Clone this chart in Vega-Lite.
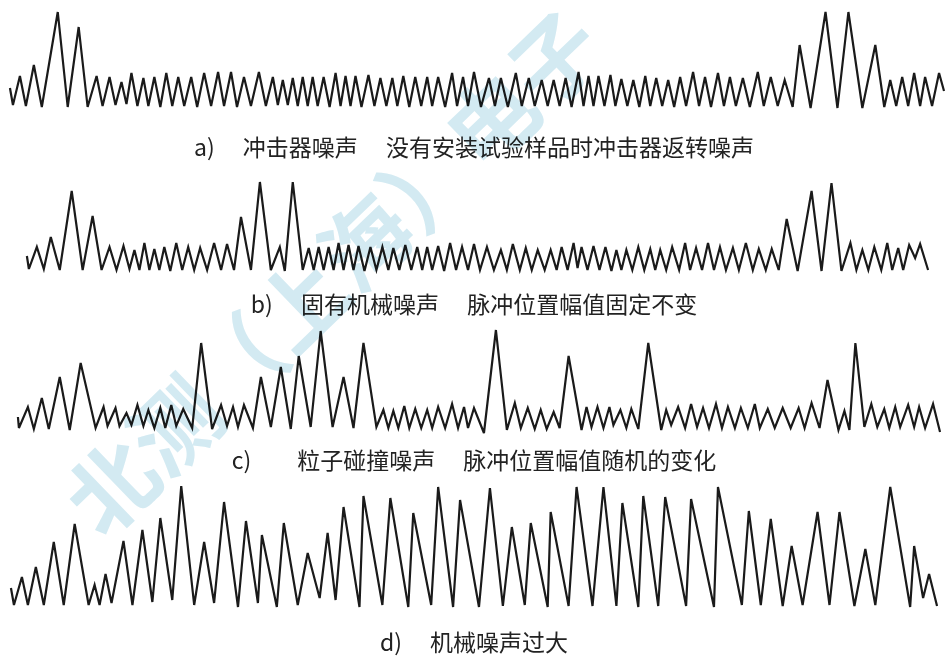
{
  "$schema": "https://vega.github.io/schema/vega-lite/v6.json",
  "padding": 0,
  "spacing": 40,
  "bounds": "flush",
  "background": "white",
  "config": {"view": {"stroke": null}, "title": {"frame": "group"}},
  "datasets": {
    "a": [{"t":8,"v":18},{"t":11,"v":1},{"t":18,"v":30},{"t":24,"v":0},{"t":32,"v":41},{"t":40,"v":-1},{"t":56,"v":94},{"t":66,"v":-1},{"t":77,"v":79},{"t":86,"v":-1},{"t":95,"v":30},{"t":101,"v":0},{"t":108,"v":29},{"t":114,"v":1},{"t":120,"v":24},{"t":125,"v":2},{"t":130,"v":33},{"t":136,"v":0},{"t":142,"v":28},{"t":147,"v":0},{"t":153,"v":29},{"t":159,"v":-1},{"t":165,"v":33},{"t":171,"v":0},{"t":177,"v":29},{"t":183,"v":0},{"t":190,"v":29},{"t":196,"v":-1},{"t":203,"v":33},{"t":210,"v":0},{"t":217,"v":34},{"t":223,"v":0},{"t":230,"v":34},{"t":236,"v":-1},{"t":243,"v":29},{"t":250,"v":0},{"t":258,"v":34},{"t":265,"v":0},{"t":272,"v":29},{"t":277,"v":1},{"t":282,"v":26},{"t":287,"v":1},{"t":292,"v":28},{"t":297,"v":0},{"t":302,"v":29},{"t":307,"v":0},{"t":312,"v":29},{"t":317,"v":0},{"t":323,"v":29},{"t":329,"v":-1},{"t":335,"v":33},{"t":340,"v":0},{"t":345,"v":30},{"t":350,"v":0},{"t":355,"v":30},{"t":361,"v":-1},{"t":368,"v":31},{"t":374,"v":0},{"t":380,"v":28},{"t":386,"v":0},{"t":392,"v":28},{"t":397,"v":0},{"t":403,"v":30},{"t":409,"v":-1},{"t":415,"v":29},{"t":421,"v":0},{"t":427,"v":29},{"t":432,"v":0},{"t":438,"v":29},{"t":445,"v":-1},{"t":452,"v":33},{"t":457,"v":0},{"t":463,"v":29},{"t":468,"v":0},{"t":474,"v":34},{"t":481,"v":-1},{"t":489,"v":28},{"t":495,"v":0},{"t":501,"v":28},{"t":508,"v":-1},{"t":516,"v":33},{"t":522,"v":0},{"t":529,"v":28},{"t":535,"v":0},{"t":542,"v":26},{"t":548,"v":0},{"t":554,"v":26},{"t":560,"v":0},{"t":566,"v":28},{"t":572,"v":-1},{"t":579,"v":34},{"t":584,"v":0},{"t":589,"v":30},{"t":594,"v":0},{"t":599,"v":30},{"t":605,"v":0},{"t":611,"v":31},{"t":616,"v":0},{"t":622,"v":27},{"t":628,"v":0},{"t":634,"v":26},{"t":640,"v":-1},{"t":646,"v":30},{"t":651,"v":0},{"t":657,"v":28},{"t":663,"v":0},{"t":669,"v":26},{"t":675,"v":-1},{"t":681,"v":29},{"t":687,"v":0},{"t":694,"v":34},{"t":700,"v":0},{"t":706,"v":29},{"t":712,"v":-1},{"t":719,"v":33},{"t":725,"v":0},{"t":731,"v":29},{"t":737,"v":0},{"t":744,"v":28},{"t":751,"v":-1},{"t":759,"v":34},{"t":765,"v":0},{"t":772,"v":29},{"t":779,"v":0},{"t":786,"v":26},{"t":794,"v":-1},{"t":801,"v":61},{"t":812,"v":-2},{"t":827,"v":94},{"t":839,"v":-2},{"t":850,"v":94},{"t":864,"v":-2},{"t":877,"v":61},{"t":886,"v":-1},{"t":892,"v":26},{"t":898,"v":0},{"t":904,"v":29},{"t":910,"v":0},{"t":916,"v":33},{"t":922,"v":0},{"t":927,"v":29},{"t":934,"v":0},{"t":941,"v":33},{"t":946,"v":15}],
    "b": [{"t":25,"v":14},{"t":27,"v":1},{"t":35,"v":23},{"t":42,"v":1},{"t":49,"v":33},{"t":58,"v":0},{"t":70,"v":79},{"t":81,"v":0},{"t":91,"v":54},{"t":100,"v":0},{"t":108,"v":23},{"t":115,"v":0},{"t":122,"v":24},{"t":128,"v":1},{"t":133,"v":20},{"t":138,"v":0},{"t":143,"v":27},{"t":148,"v":0},{"t":153,"v":21},{"t":158,"v":0},{"t":163,"v":23},{"t":169,"v":-1},{"t":175,"v":27},{"t":181,"v":0},{"t":187,"v":23},{"t":193,"v":0},{"t":199,"v":22},{"t":206,"v":0},{"t":213,"v":27},{"t":220,"v":0},{"t":226,"v":26},{"t":233,"v":0},{"t":240,"v":53},{"t":250,"v":0},{"t":259,"v":88},{"t":270,"v":0},{"t":279,"v":23},{"t":284,"v":-1},{"t":292,"v":88},{"t":302,"v":0},{"t":308,"v":22},{"t":313,"v":0},{"t":318,"v":23},{"t":323,"v":0},{"t":328,"v":23},{"t":333,"v":0},{"t":338,"v":27},{"t":343,"v":0},{"t":348,"v":25},{"t":353,"v":0},{"t":358,"v":24},{"t":364,"v":-1},{"t":370,"v":23},{"t":376,"v":0},{"t":382,"v":23},{"t":388,"v":0},{"t":393,"v":22},{"t":399,"v":0},{"t":405,"v":25},{"t":411,"v":0},{"t":417,"v":23},{"t":422,"v":0},{"t":427,"v":23},{"t":432,"v":0},{"t":438,"v":24},{"t":444,"v":-1},{"t":450,"v":27},{"t":456,"v":0},{"t":462,"v":23},{"t":468,"v":0},{"t":474,"v":26},{"t":480,"v":0},{"t":487,"v":23},{"t":494,"v":0},{"t":501,"v":20},{"t":507,"v":0},{"t":513,"v":26},{"t":520,"v":0},{"t":526,"v":22},{"t":532,"v":0},{"t":538,"v":20},{"t":545,"v":0},{"t":551,"v":20},{"t":557,"v":0},{"t":562,"v":23},{"t":568,"v":0},{"t":574,"v":27},{"t":578,"v":2},{"t":582,"v":23},{"t":588,"v":0},{"t":594,"v":24},{"t":600,"v":0},{"t":606,"v":23},{"t":612,"v":-1},{"t":617,"v":20},{"t":622,"v":0},{"t":627,"v":20},{"t":633,"v":0},{"t":639,"v":23},{"t":645,"v":0},{"t":651,"v":21},{"t":656,"v":0},{"t":661,"v":20},{"t":667,"v":0},{"t":673,"v":23},{"t":680,"v":0},{"t":686,"v":27},{"t":691,"v":0},{"t":697,"v":22},{"t":703,"v":0},{"t":709,"v":27},{"t":715,"v":0},{"t":721,"v":23},{"t":727,"v":0},{"t":734,"v":22},{"t":740,"v":0},{"t":747,"v":27},{"t":754,"v":0},{"t":760,"v":21},{"t":767,"v":0},{"t":773,"v":21},{"t":780,"v":0},{"t":788,"v":51},{"t":799,"v":-1},{"t":813,"v":79},{"t":823,"v":-1},{"t":833,"v":87},{"t":843,"v":-1},{"t":852,"v":27},{"t":858,"v":0},{"t":864,"v":20},{"t":870,"v":0},{"t":876,"v":23},{"t":883,"v":0},{"t":889,"v":27},{"t":894,"v":0},{"t":900,"v":22},{"t":905,"v":0},{"t":911,"v":25},{"t":917,"v":12},{"t":922,"v":26},{"t":930,"v":0}],
    "c": [{"t":16,"v":11},{"t":17,"v":0},{"t":26,"v":21},{"t":32,"v":-1},{"t":40,"v":30},{"t":47,"v":-1},{"t":58,"v":51},{"t":68,"v":-2},{"t":79,"v":65},{"t":94,"v":0},{"t":102,"v":21},{"t":106,"v":2},{"t":114,"v":20},{"t":118,"v":2},{"t":125,"v":15},{"t":130,"v":3},{"t":136,"v":23},{"t":142,"v":2},{"t":147,"v":18},{"t":153,"v":0},{"t":159,"v":20},{"t":164,"v":0},{"t":170,"v":23},{"t":175,"v":2},{"t":182,"v":19},{"t":191,"v":0},{"t":200,"v":85},{"t":211,"v":-1},{"t":220,"v":23},{"t":226,"v":2},{"t":232,"v":21},{"t":237,"v":1},{"t":243,"v":23},{"t":252,"v":0},{"t":260,"v":51},{"t":270,"v":1},{"t":280,"v":61},{"t":290,"v":-1},{"t":298,"v":72},{"t":310,"v":1},{"t":320,"v":97},{"t":332,"v":1},{"t":343,"v":51},{"t":353,"v":0},{"t":363,"v":85},{"t":376,"v":1},{"t":383,"v":18},{"t":388,"v":0},{"t":393,"v":17},{"t":398,"v":0},{"t":404,"v":22},{"t":409,"v":0},{"t":415,"v":19},{"t":421,"v":0},{"t":427,"v":18},{"t":432,"v":0},{"t":438,"v":21},{"t":445,"v":0},{"t":452,"v":24},{"t":458,"v":0},{"t":464,"v":21},{"t":468,"v":0},{"t":474,"v":20},{"t":484,"v":-5},{"t":496,"v":98},{"t":507,"v":-2},{"t":515,"v":25},{"t":521,"v":0},{"t":528,"v":20},{"t":535,"v":-1},{"t":541,"v":18},{"t":547,"v":-1},{"t":554,"v":16},{"t":560,"v":0},{"t":569,"v":72},{"t":582,"v":-2},{"t":587,"v":21},{"t":592,"v":1},{"t":598,"v":21},{"t":604,"v":0},{"t":610,"v":21},{"t":614,"v":3},{"t":621,"v":18},{"t":627,"v":0},{"t":632,"v":19},{"t":639,"v":-1},{"t":649,"v":85},{"t":662,"v":-2},{"t":667,"v":18},{"t":672,"v":3},{"t":679,"v":21},{"t":686,"v":0},{"t":692,"v":24},{"t":698,"v":1},{"t":704,"v":20},{"t":710,"v":0},{"t":717,"v":24},{"t":723,"v":0},{"t":729,"v":21},{"t":736,"v":0},{"t":742,"v":20},{"t":749,"v":0},{"t":756,"v":24},{"t":761,"v":0},{"t":769,"v":19},{"t":776,"v":0},{"t":784,"v":20},{"t":792,"v":0},{"t":800,"v":20},{"t":806,"v":0},{"t":813,"v":25},{"t":821,"v":0},{"t":829,"v":48},{"t":840,"v":-2},{"t":846,"v":17},{"t":851,"v":-2},{"t":857,"v":85},{"t":866,"v":1},{"t":873,"v":24},{"t":879,"v":1},{"t":886,"v":19},{"t":891,"v":0},{"t":897,"v":21},{"t":902,"v":1},{"t":910,"v":23},{"t":916,"v":1},{"t":921,"v":21},{"t":927,"v":0},{"t":935,"v":24},{"t":942,"v":-4}],
    "d": [{"t":9,"v":17},{"t":12,"v":0},{"t":20,"v":28},{"t":26,"v":0},{"t":34,"v":38},{"t":42,"v":0},{"t":52,"v":63},{"t":62,"v":0},{"t":73,"v":81},{"t":87,"v":0},{"t":93,"v":20},{"t":98,"v":0},{"t":104,"v":31},{"t":110,"v":2},{"t":122,"v":64},{"t":131,"v":0},{"t":141,"v":75},{"t":151,"v":3},{"t":159,"v":87},{"t":171,"v":5},{"t":180,"v":119},{"t":193,"v":0},{"t":203,"v":63},{"t":213,"v":2},{"t":223,"v":103},{"t":237,"v":-2},{"t":245,"v":84},{"t":257,"v":2},{"t":261,"v":70},{"t":276,"v":-2},{"t":283,"v":82},{"t":297,"v":0},{"t":307,"v":52},{"t":319,"v":7},{"t":327,"v":72},{"t":335,"v":5},{"t":343,"v":98},{"t":359,"v":-2},{"t":363,"v":109},{"t":382,"v":0},{"t":390,"v":107},{"t":408,"v":-2},{"t":413,"v":92},{"t":431,"v":0},{"t":438,"v":118},{"t":453,"v":-2},{"t":460,"v":105},{"t":479,"v":-2},{"t":490,"v":117},{"t":503,"v":-1},{"t":512,"v":78},{"t":525,"v":0},{"t":531,"v":82},{"t":548,"v":-2},{"t":551,"v":93},{"t":569,"v":-1},{"t":577,"v":118},{"t":593,"v":-1},{"t":604,"v":118},{"t":617,"v":-1},{"t":623,"v":102},{"t":639,"v":-2},{"t":644,"v":109},{"t":659,"v":-1},{"t":666,"v":108},{"t":687,"v":-1},{"t":692,"v":106},{"t":715,"v":-2},{"t":719,"v":118},{"t":743,"v":0},{"t":750,"v":94},{"t":762,"v":0},{"t":772,"v":86},{"t":784,"v":-1},{"t":793,"v":59},{"t":804,"v":0},{"t":819,"v":93},{"t":831,"v":0},{"t":841,"v":93},{"t":856,"v":-1},{"t":867,"v":56},{"t":877,"v":0},{"t":892,"v":118},{"t":912,"v":-2},{"t":916,"v":59},{"t":925,"v":7},{"t":931,"v":31},{"t":939,"v":-1}]
  },
  "vconcat": [
    {
      "width": 948, "height": 125,
      "title": {"text": "a)　 冲击器噪声　 没有安装试验样品时冲击器返转噪声", "orient": "bottom", "anchor": "middle", "frame": "group", "offset": 13, "baseline": "top", "fontSize": 23, "font": "Noto Sans CJK SC", "fontWeight": "normal", "color": "#222222"},
      "data": {"name": "a"},
      "mark": {"type": "line", "color": "#1a1a1a", "strokeWidth": 2.2},
      "encoding": {
        "x": {"field": "t", "type": "quantitative", "scale": {"domain": [-2, 950], "nice": false, "zero": false}, "axis": null},
        "y": {"field": "v", "type": "quantitative", "scale": {"domain": [-19, 106], "nice": false, "zero": false}, "axis": null}
      }
    },
    {
      "width": 948, "height": 117,
      "title": {"text": "b)　 固有机械噪声　 脉冲位置幅值固定不变", "orient": "bottom", "anchor": "middle", "frame": "group", "offset": 13, "baseline": "top", "fontSize": 23, "font": "Noto Sans CJK SC", "fontWeight": "normal", "color": "#222222"},
      "data": {"name": "b"},
      "mark": {"type": "line", "color": "#1a1a1a", "strokeWidth": 2.2},
      "encoding": {
        "x": {"field": "t", "type": "quantitative", "scale": {"domain": [-2, 950], "nice": false, "zero": false}, "axis": null},
        "y": {"field": "v", "type": "quantitative", "scale": {"domain": [-12, 105], "nice": false, "zero": false}, "axis": null}
      }
    },
    {
      "width": 948, "height": 116,
      "title": {"text": "c)　　粒子碰撞噪声　 脉冲位置幅值随机的变化", "orient": "bottom", "anchor": "middle", "frame": "group", "offset": 13, "baseline": "top", "fontSize": 23, "font": "Noto Sans CJK SC", "fontWeight": "normal", "color": "#222222"},
      "data": {"name": "c"},
      "mark": {"type": "line", "color": "#1a1a1a", "strokeWidth": 2.2},
      "encoding": {
        "x": {"field": "t", "type": "quantitative", "scale": {"domain": [-2, 950], "nice": false, "zero": false}, "axis": null},
        "y": {"field": "v", "type": "quantitative", "scale": {"domain": [-10, 106], "nice": false, "zero": false}, "axis": null}
      }
    },
    {
      "width": 948, "height": 138,
      "title": {"text": "d)　 机械噪声过大", "orient": "bottom", "anchor": "middle", "frame": "group", "offset": 17, "baseline": "top", "fontSize": 23, "font": "Noto Sans CJK SC", "fontWeight": "normal", "color": "#222222"},
      "layer": [
        {
          "data": {"name": "d"},
          "mark": {"type": "line", "color": "#1a1a1a", "strokeWidth": 2.2},
          "encoding": {
            "x": {"field": "t", "type": "quantitative", "scale": {"domain": [-2, 950], "nice": false, "zero": false}, "axis": null},
            "y": {"field": "v", "type": "quantitative", "scale": {"domain": [-11, 127], "nice": false, "zero": false}, "axis": null}
          }
        },
        {
          "data": {"values": [{"label": "北测（上海）电子"}]},
          "mark": {"type": "text", "angle": -44, "fontSize": 88, "font": "Noto Sans CJK SC", "fontWeight": "bold", "color": "#d3eaf2", "blend": "multiply", "align": "center", "baseline": "middle"},
          "encoding": {
            "x": {"datum": 338, "type": "quantitative", "scale": {"domain": [-2, 950], "nice": false, "zero": false}, "axis": null},
            "y": {"datum": 327, "type": "quantitative", "scale": {"domain": [-11, 127], "nice": false, "zero": false}, "axis": null},
            "text": {"field": "label"}
          }
        }
      ]
    }
  ]
}
